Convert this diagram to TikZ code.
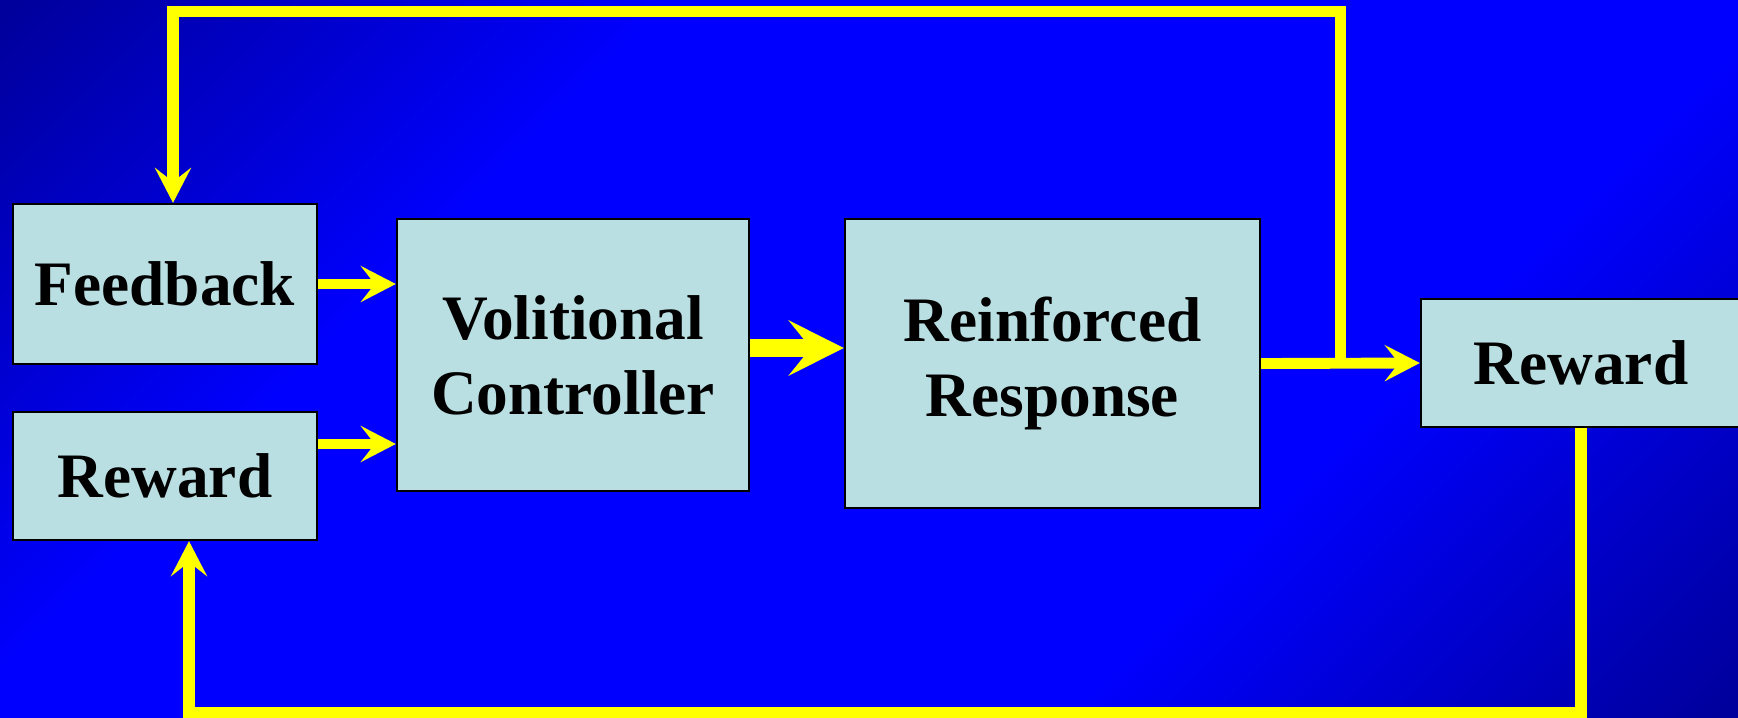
\documentclass[tikz,border=0pt]{standalone}
\usepackage{fontspec}
\setmainfont{Liberation Serif}
\usetikzlibrary{arrows.meta,calc}
\definecolor{slideblue}{HTML}{0000FF}
\definecolor{slidedark}{HTML}{00009C}
\definecolor{boxfill}{HTML}{B9DFE2}
\definecolor{flowyellow}{HTML}{FFFF00}
\pgfdeclareverticalshading{slideshade}{100bp}{color(0bp)=(slidedark); color(15bp)=(slidedark);
  color(34bp)=(slideblue); color(66bp)=(slideblue); color(85bp)=(slidedark); color(100bp)=(slidedark)}
\tikzset{
  blockbox/.style={draw=black,line width=0.6pt,fill=boxfill,align=center,inner sep=0pt,
    font=\fontsize{18}{21.3}\selectfont\bfseries},
  flowarrow/.style={draw=flowyellow,line width=3.1pt,
    -{Stealth[length=0.35cm,width=0.36cm,inset=0.14cm]}},
  mainarrow/.style={draw=flowyellow,line width=5.1pt,
    -{Stealth[length=0.55cm,width=0.55cm,inset=0.22cm]}},
  looparrow/.style={flowarrow,line width=3.4pt,line join=miter}
}

\begin{document}
\begin{tikzpicture}[x=0.01cm,y=-0.01cm]
  \shade[shading=slideshade,shading angle=45] (0,0) rectangle (1738,717);
  \useasboundingbox (0,0) rectangle (1738,717);

  \node[blockbox,minimum width=3.04cm,minimum height=1.6cm] (feedback) at (165,284) {Feedback};
  \node[blockbox,minimum width=3.04cm,minimum height=1.28cm] (rewardin) at (165,476) {Reward};
  \node[blockbox,minimum width=3.52cm,minimum height=2.72cm] (volition) at (573,355)
    {Volitional\\Controller};
  \node[blockbox,minimum width=4.15cm,minimum height=2.89cm] (response) at (1052.5,363.5)
    {Reinforced\\Response};
  \node[blockbox,minimum width=3.2cm,minimum height=1.28cm] (rewardout) at (1581,363) {Reward};

  \draw[flowarrow] (feedback.east) -- (feedback.east -| volition.west);
  \draw[flowarrow] ([yshift=0.32cm]rewardin.east) -- ([yshift=0.32cm]rewardin.east -| volition.west);
  \draw[mainarrow] ([yshift=0.07cm]volition.east) -- ([yshift=0.07cm]volition.east -| response.west);
  \draw[flowarrow] (response.east) -- (rewardout.west);

  % feedback and reward loops
  \coordinate (split) at ($(response.east)!0.5!(rewardout.west)$);
  \coordinate (roof) at (0,11.5);
  \coordinate (floor) at (0,713);
  \draw[looparrow] (split) -- (split |- roof) -| ([xshift=0.08cm]feedback.north);
  \draw[looparrow] (rewardout.south) -- (rewardout.south |- floor) -| ([xshift=0.24cm]rewardin.south);
\end{tikzpicture}
\end{document}
